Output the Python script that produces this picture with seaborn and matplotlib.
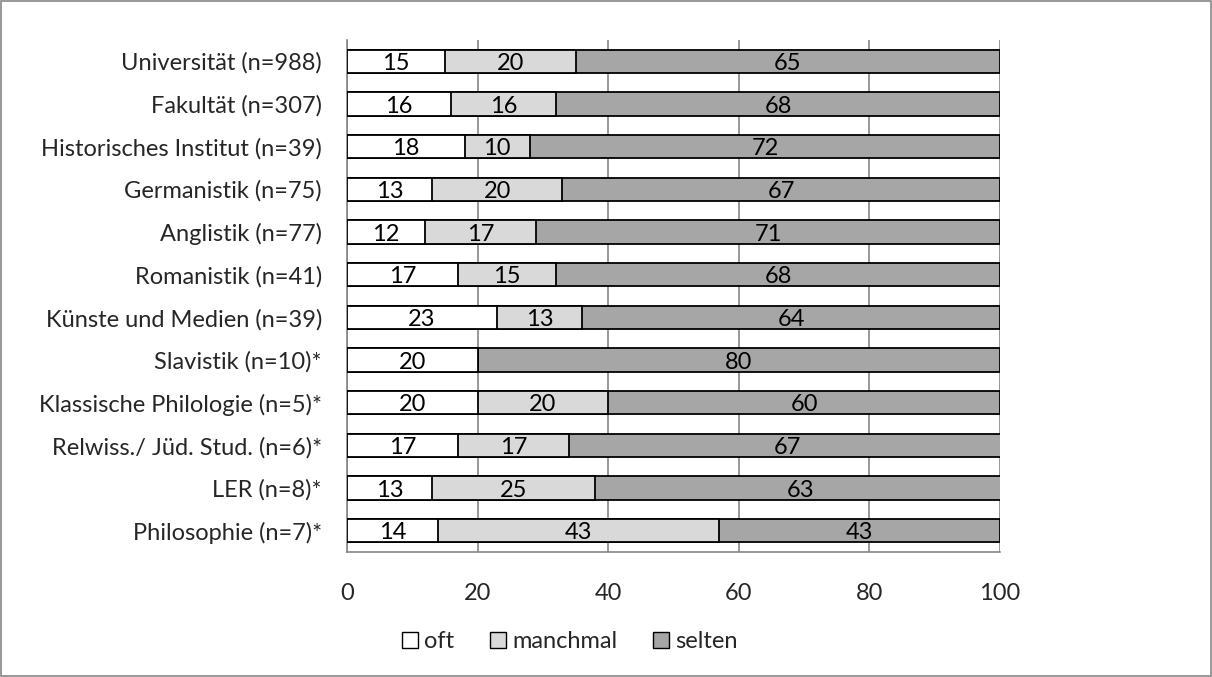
import numpy as np
import pandas as pd
import matplotlib
matplotlib.use("Agg")
import matplotlib.pyplot as plt
import seaborn as sns
from matplotlib.patches import Patch

# daten aus dem diagramm
kategorien = ["Universität (n=988)", "Fakultät (n=307)", "Historisches Institut (n=39)",
              "Germanistik (n=75)", "Anglistik (n=77)", "Romanistik (n=41)",
              "Künste und Medien (n=39)", "Slavistik (n=10)*", "Klassische Philologie (n=5)*",
              "Relwiss./ Jüd. Stud. (n=6)*", "LER (n=8)*", "Philosophie (n=7)*"]
oft = [15, 16, 18, 13, 12, 17, 23, 20, 20, 17, 13, 14]
manchmal = [20, 16, 10, 20, 17, 15, 13, 0, 20, 17, 25, 43]
selten = [65, 68, 72, 67, 71, 68, 64, 80, 60, 67, 63, 43]
serien = ["oft", "manchmal", "selten"]
farben = ["#ffffff", "#d9d9d9", "#a6a6a6"]

sns.set_style("white")
plt.rcParams["font.family"] = ["Lato", "DejaVu Sans"]
fs = 17

df = pd.DataFrame({"kat": kategorien, "oft": oft, "manchmal": manchmal, "selten": selten})
df["c1"] = df["oft"]
df["c2"] = df["oft"] + df["manchmal"]
df["c3"] = df["c2"] + df["selten"]

fig = plt.figure(figsize=(12.12, 6.77), dpi=100)
ax = fig.add_axes([0.2863, 0.1846, 0.5388, 0.7564])

# gestapelt: kumulierte summen von hinten nach vorne zeichnen
for col, farbe in zip(["c3", "c2", "c1"], farben[::-1]):
    sns.barplot(data=df, x=col, y="kat", orient="h", color=farbe, width=0.55,
                edgecolor="black", linewidth=1.3, saturation=1, ax=ax, zorder=3)

# beschriftungen mittig in den segmenten
for i in range(len(kategorien)):
    links = 0
    for werte in [oft, manchmal, selten]:
        v = werte[i]
        if v > 0:
            ax.text(links + v / 2, i + 0.05, str(v), ha="center", va="center",
                    fontsize=fs, color="black", zorder=5)
        links += v

ax.set_xlim(0, 100)
ax.set_ylim(11.5, -0.5)
ax.set_xticks([0, 20, 40, 60, 80, 100])
ax.grid(axis="x", color="#868686", linewidth=1.2, zorder=0)
ax.set_axisbelow(True)
ax.set_xlabel("")
ax.set_ylabel("")

for s in ["top", "right"]:
    ax.spines[s].set_visible(False)
for s in ["left", "bottom"]:
    ax.spines[s].set_color("#868686")
    ax.spines[s].set_linewidth(1.2)

ax.set_yticks(np.arange(12))
ax.set_yticklabels(kategorien, fontsize=fs)
ax.set_yticks(np.arange(-0.5, 12, 1), minor=True)
ax.tick_params(axis="y", which="major", length=0, pad=18)
ax.tick_params(axis="y", which="minor", length=6, color="#868686", width=1.2, direction="out")
ax.tick_params(axis="x", length=6, color="#868686", width=1.2, direction="out",
               labelsize=fs, pad=16)

handles = [Patch(facecolor=f, edgecolor="black", linewidth=1.0) for f in farben]
fig.legend(handles, serien, loc="center", bbox_to_anchor=(0.47, 0.052), ncol=3,
           frameon=False, fontsize=fs, handlelength=0.7, handleheight=0.7,
           handletextpad=0.25, columnspacing=1.5)

# rahmen um die grafik
fig.patches.append(plt.Rectangle((0.001, 0.001), 0.998, 0.998, transform=fig.transFigure,
                                 fill=False, edgecolor="#868686", linewidth=1.2))

fig.savefig("out.png", dpi=100)
